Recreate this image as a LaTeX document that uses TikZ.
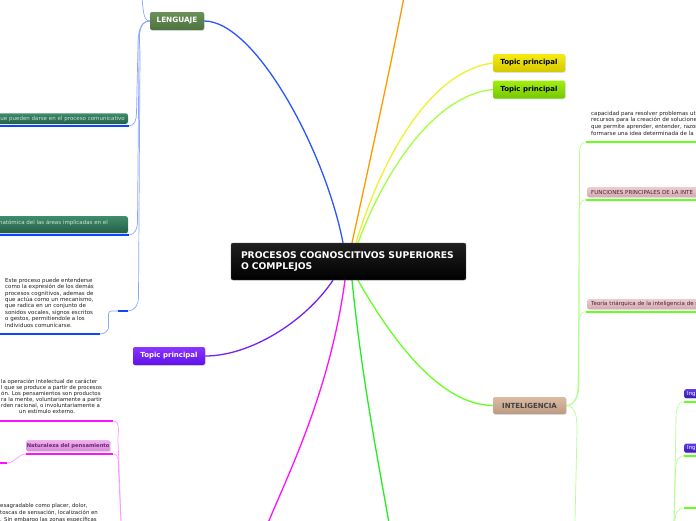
\documentclass[tikz,border=0pt]{standalone}
\usepackage{fontspec}
\setmainfont{DejaVu Sans}
\usetikzlibrary{shadows,backgrounds}
\definecolor{cBlue}{HTML}{2A55FF}
\definecolor{cLBlue}{HTML}{8FA6FF}
\definecolor{cUBlue}{HTML}{0A45FF}
\definecolor{cOrange}{HTML}{FF9A00}
\definecolor{cYellow}{HTML}{F0F030}
\definecolor{cLime}{HTML}{A4FF44}
\definecolor{cPurple}{HTML}{7422F0}
\definecolor{cMag}{HTML}{FF11FF}
\definecolor{cLMag}{HTML}{FF99FF}
\definecolor{cGreen}{HTML}{22EE22}
\definecolor{cIGreen}{HTML}{66FF22}
\definecolor{cLGreen}{HTML}{B4FF90}
\definecolor{yTop}{HTML}{F4EC10}
\definecolor{yBot}{HTML}{D6C800}
\definecolor{lTop}{HTML}{A2EE10}
\definecolor{lBot}{HTML}{74C800}
\definecolor{pTop}{HTML}{8A36FF}
\definecolor{pBot}{HTML}{6010EA}
\definecolor{gTop}{HTML}{6C9058}
\definecolor{gBot}{HTML}{4C7240}
\definecolor{dTop}{HTML}{408C6C}
\definecolor{dBot}{HTML}{235F45}
\definecolor{dTxt}{HTML}{CFE3DA}
\definecolor{nTop}{HTML}{F0B0F0}
\definecolor{nBot}{HTML}{DA8ADA}
\definecolor{nTxt}{HTML}{6A2470}
\definecolor{iTop}{HTML}{DCBCA4}
\definecolor{iBot}{HTML}{BC9A82}
\definecolor{fTop}{HTML}{ECCCD0}
\definecolor{fBot}{HTML}{D4AAB2}
\definecolor{fTxt}{HTML}{4A1F2A}
\definecolor{inTop}{HTML}{5C3CE2}
\definecolor{inBot}{HTML}{3A1AB0}
\tikzset{
  boxbase/.style={rounded corners=2pt, inner sep=0pt,
    drop shadow={opacity=0.22,shadow xshift=0.8pt,shadow yshift=-0.8pt}},
  topicfont/.style={font=\bfseries\fontsize{7}{8}\selectfont},
  ytopic/.style={boxbase, topicfont, top color=yTop, bottom color=yBot, minimum width=72pt, minimum height=18pt, text=black},
  ltopic/.style={boxbase, topicfont, top color=lTop, bottom color=lBot, minimum width=72pt, minimum height=18pt, text=black},
  ptopic/.style={boxbase, topicfont, top color=pTop, bottom color=pBot, minimum width=72pt, minimum height=18pt, text=white},
  lgbox/.style={boxbase, font=\bfseries\fontsize{7.3}{8}\selectfont, top color=gTop, bottom color=gBot, minimum width=54pt, minimum height=18pt, text=white},
  intelbox/.style={boxbase, font=\bfseries\fontsize{7}{8}\selectfont, top color=iTop, bottom color=iBot, minimum width=73pt, minimum height=17pt, text=black!75},
  mainbox/.style={rounded corners=2pt, top color=black!88, bottom color=black, draw=black!70, line width=0.4pt,
    text=white, font=\bfseries\fontsize{9.2}{11.3}\selectfont, text width=215pt, align=left,
    inner xsep=10pt, minimum height=37pt},
  dgbox/.style={boxbase, top color=dTop, bottom color=dBot, text=dTxt, font=\fontsize{5.5}{6.4}\selectfont},
  natbox/.style={boxbase, top color=nTop, bottom color=nBot, text=nTxt, font=\bfseries\fontsize{5.2}{6.4}\selectfont},
  funcbox/.style={boxbase, top color=fTop, bottom color=fBot, text=fTxt, font=\fontsize{5.5}{6.4}\selectfont},
  ingbox/.style={boxbase, top color=inTop, bottom color=inBot, text=white, font=\fontsize{5.4}{6.4}\selectfont},
  smalltext/.style={inner sep=0pt, align=left, text=black!88},
  conn/.style={line width=1.3pt},
  subconn/.style={line width=0.7pt},
  uline/.style={line width=2pt},
}
\begin{document}
\begin{tikzpicture}[x=1pt,y=-1pt]
\useasboundingbox (0,0) rectangle (696,520);
\clip (0,0) rectangle (696,520);

% ---------- nodes ----------
\node[mainbox] (root) at (348.5,261.5) {PROCESOS COGNOSCITIVOS SUPERIORES\\O COMPLEJOS};
\node[lgbox] (leng) at (177,21) {LENGUAJE};
\node[ytopic] (ytp) at (529,63) {Topic principal};
\node[ltopic] (ltp) at (529,89.5) {Topic principal};
\node[ptopic] (ptp) at (169,356) {Topic principal};
\node[intelbox] (intel) at (529.5,405.5) {INTELIGENCIA};

% Lenguaje children
\node[dgbox, text width=190pt, align=right, inner xsep=3pt, minimum height=10.5pt, anchor=east] (lg1) at (128,118.5) {que pueden darse en el proceso comunicativo};
\node[dgbox, anchor=north east, minimum width=200pt, minimum height=17pt] (lg2) at (128,216) {};
\node[text=dTxt, font=\fontsize{5.5}{6.4}\selectfont, inner sep=0pt, anchor=base east] (lg2t) at (108,224) {natómica del las áreas implicadas en el};
\node[smalltext, font=\fontsize{5.5}{6.4}\selectfont, anchor=north west] (este) at (5,278)
  {Este proceso puede entenderse\\como la expresión de los demás\\procesos cognitivos, ademas de\\que actúa como un mecanismo,\\que radica en un conjunto de\\sonidos vocales, signos escritos\\o gestos, permitiendole a los\\individuos comunicarse.};

% Magenta branch children
\node[smalltext, font=\fontsize{5.4}{6.0}\selectfont, anchor=north west] (pens) at (1,378.7)
  {la operación intelectual de carácter\\l que se produce a partir de procesos\\ón. Los pensamientos son productos\\ra la mente, voluntariamente a partir\\rden racional, o involuntariamente a\\\hspace*{18pt}un estímulo externo.};
\node[natbox, anchor=north west, minimum width=84pt, minimum height=11pt] (nat) at (26,440) {Naturaleza del pensamiento};
\node[smalltext, font=\fontsize{5.4}{7}\selectfont, anchor=north west] (dolor) at (0,502.7)
  {esagradable como placer, dolor,\\toscas de sensación, localización en\\. Sin embargo las zonas específicas};

% Inteligencia children
\node[smalltext, font=\fontsize{5.5}{6.6}\selectfont, anchor=north west] (capac) at (591,111)
  {capacidad para resolver problemas ut\\recursos para la creación de solucione\\que permite aprender, entender, razon\\formarse una idea determinada de la};
\node[funcbox, anchor=north west, minimum width=130pt, minimum height=10pt, text width=124pt, align=left, inner xsep=4pt] (func) at (587,187) {FUNCIONES PRINCIPALES DE LA INTE};
\node[funcbox, anchor=north west, minimum width=130pt, minimum height=10pt, text width=124pt, align=left, inner xsep=4pt] (teor) at (587,299) {Teoría triárquica de la inteligencia de s};
\node[ingbox, anchor=north west, minimum height=9pt, text width=24pt, align=left, inner xsep=3pt] (ing1) at (684,389) {Ing};
\node[ingbox, anchor=north west, minimum height=9pt, text width=24pt, align=left, inner xsep=3pt] (ing2) at (684,443.5) {Ing};

% ---------- coordinates ----------
\coordinate (top1) at (404,-3);
\coordinate (bot1) at (268,523);
\coordinate (bot2) at (389,523);
\coordinate (lgtop) at (142,-3);
\coordinate (lg1e) at (129,126);
\coordinate (lg2e) at (129,235);
\coordinate (sA) at (128,311);
\coordinate (sB) at (118,311);
\coordinate (esteE) at (100,334);
\coordinate (esteW) at (-3,334);
\coordinate (m1) at (113,421);
\coordinate (m2) at (113,454);
\coordinate (m2w) at (26,454);
\coordinate (m3) at (7,463);
\coordinate (mbot) at (121,523);
\coordinate (g1) at (586,142);
\coordinate (g2) at (586,199.5);
\coordinate (g3) at (586,311.7);
\coordinate (gbot) at (575,523);
\coordinate (i1) at (684,402);
\coordinate (i2) at (684,455.7);
\coordinate (i3) at (684,508);
\coordinate (ibot) at (674,523);

% ---------- connectors ----------
\begin{scope}[on background layer]
\fill[white] (0,0) rectangle (696,520);
\draw[conn,cBlue] ([xshift=-5.5pt]root.north) .. controls (325,150) and (255,21) .. (leng.east);
\draw[conn,cOrange] ([xshift=3.5pt]root.north) .. controls (368,170) and (392,60) .. (top1);
\draw[conn,cYellow] ([xshift=7.5pt]root.north) .. controls (378,170) and (425,72) .. (ytp.west);
\draw[conn,cLime] ([xshift=9.5pt]root.north) .. controls (385,170) and (435,95) .. (ltp.west);
\draw[conn,cPurple] ([xshift=-15.5pt]root.south) .. controls (305,322) and (250,356) .. (ptp.east);
\draw[conn,cMag] ([xshift=-3.5pt]root.south) .. controls (330,390) and (290,470) .. (bot1);
\draw[conn,cGreen] ([xshift=3.5pt]root.south) .. controls (362,380) and (378,460) .. (bot2);
\draw[conn,cIGreen] ([xshift=9.5pt]root.south) .. controls (392,340) and (440,405) .. (intel.west);

% Lenguaje sub-branches
\draw[subconn,cLBlue] (leng.west) .. controls (143,21) and (143,8) .. (lgtop);
\draw[subconn,cLBlue] (leng.west) to[out=180,in=90] (138,45) -- (136.5,113) to[out=-90,in=0] (lg1e);
\draw[subconn,cLBlue] (leng.west) to[out=180,in=90] (139,50) -- (137.5,222) to[out=-90,in=0] (lg2e);
\draw[subconn,cLBlue] (leng.west) to[out=180,in=90] (140,55) -- (138.5,298) to[out=-90,in=0] (sA);
\draw[subconn,cLBlue,rounded corners=3pt] (sB) -- (108.5,311) -- (108.5,325) to[out=-90,in=0] (esteE);
\draw[uline,cUBlue] (lg1e) -- ++(-140,0);
\draw[uline,cUBlue] (lg2e) -- ++(-140,0);
\draw[uline,cUBlue] (sB) -- (sA);
\draw[uline,cUBlue] (esteE) -- (esteW);

% Magenta sub-branches
\draw[subconn,cLMag] (m1) to[out=0,in=90] (118,440) -- (121,520) -- (mbot);
\draw[subconn,cLMag] (m2) to[out=0,in=90] (118.5,470) -- (mbot);
\draw[subconn,cLMag] (m2w) to[out=180,in=0] (m3);
\draw[uline,cMag] (m1) -- ++(-120,0);
\draw[uline,cMag] (m2) -- (m2w);
\draw[uline,cMag] (m3) -- ++(-12,0);

% Inteligencia sub-branches
\draw[subconn,cLGreen] (intel.east) to[out=0,in=-90] (579,385) -- (579.5,160) to[out=90,in=180] (g1);
\draw[subconn,cLGreen] (intel.east) to[out=0,in=-90] (578.5,385) -- (579,215) to[out=90,in=180] (g2);
\draw[subconn,cLGreen] (intel.east) to[out=0,in=-90] (578,385) -- (578.5,328) to[out=90,in=180] (g3);
\draw[subconn,cLGreen] (intel.east) to[out=0,in=90] (577,430) -- (gbot);
\draw[uline,cIGreen] (g1) -- ++(120,0);
\draw[uline,cIGreen] (g2) -- ++(120,0);
\draw[uline,cIGreen] (g3) -- ++(120,0);
\draw[subconn,cLGreen] (i1) to[out=180,in=90] (676,420) -- (ibot);
\draw[subconn,cLGreen] (i2) to[out=180,in=90] (675.5,472) -- (ibot);
\draw[subconn,cLGreen] (i3) to[out=180,in=90] (675,520) -- (ibot);
\draw[uline,cIGreen] (i1) -- ++(20,0);
\draw[uline,cIGreen] (i2) -- ++(20,0);
\draw[uline,cIGreen] (i3) -- ++(20,0);
\end{scope}
\end{tikzpicture}
\end{document}
